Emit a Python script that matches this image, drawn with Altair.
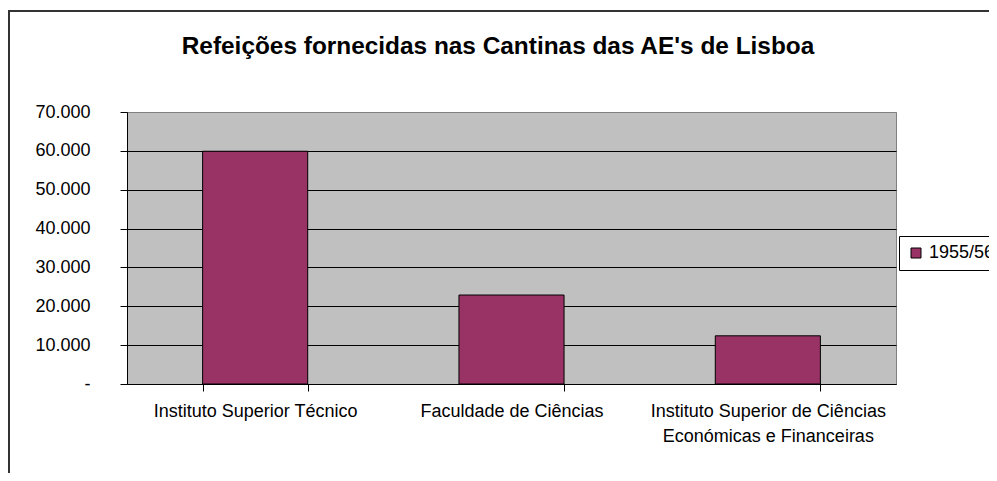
import altair as alt
import pandas as pd

# ---- data ----
categories = [
    "Instituto Superior Técnico",
    "Faculdade de Ciências",
    "Instituto Superior de Ciências\nEconómicas e Financeiras",
]
values = [59900, 22900, 12400]
series_name = "1955/56"
y_ticks = [0, 10000, 20000, 30000, 40000, 50000, 60000, 70000]
title_text = "Refeições fornecidas nas Cantinas das AE's de Lisboa"

FONT = "Liberation Sans"
BAR = "#993366"

df = pd.DataFrame({"cat": categories, "val": values, "serie": [series_name] * len(values)})

bars = alt.Chart(df).mark_bar(stroke="black", strokeWidth=1).encode(
    x=alt.X(
        "cat:N",
        sort=None,
        title=None,
        scale=alt.Scale(paddingInner=0.59, paddingOuter=0.295),
        axis=alt.Axis(
            tickBand="extent",
            tickSize=7,
            tickColor="black",
            domainColor="black",
            labelAngle=0,
            labelFont=FONT,
            labelFontSize=18,
            labelColor="black",
            labelPadding=11,
            labelLineHeight=25,
            labelLimit=0,
            labelOverlap=False,
            labelExpr="split(datum.label, '\\n')",
            grid=False,
        ),
    ),
    y=alt.Y(
        "val:Q",
        title=None,
        scale=alt.Scale(domain=[0, 70000], nice=False),
        axis=alt.Axis(
            values=y_ticks,
            tickSize=7,
            tickColor="black",
            domainColor="black",
            labelFont=FONT,
            labelFontSize=18,
            labelColor="black",
            labelPadding=30,
            labelExpr="datum.value == 0 ? '-' : replace(format(datum.value, ','), ',', '.')",
            grid=True,
            gridColor={"condition": {"test": "datum.value >= 70000", "value": "#808080"}, "value": "black"},
            gridWidth=1,
        ),
    ),
    color=alt.Color(
        "serie:N",
        scale=alt.Scale(range=[BAR]),
        legend=alt.Legend(
            title=None,
            orient="none",
            legendX=772,
            legendY=124,
            strokeColor="black",
            fillColor="white",
            padding=8,
            symbolType="square",
            symbolSize=100,
            symbolStrokeColor="black",
            symbolStrokeWidth=1,
            labelFont=FONT,
            labelFontSize=18,
            labelColor="black",
            labelOffset=4,
        ),
    ),
)

one = pd.DataFrame({"k": [0]})

frame = alt.Chart(one).mark_rect(fillOpacity=0, stroke="#333333", strokeWidth=2).encode(
    x=alt.value(-118), x2=alt.value(1000), y=alt.value(-101), y2=alt.value(500)
)

title = alt.Chart(one).mark_text(
    font=FONT, fontSize=24.4, fontWeight="bold", align="center", baseline="alphabetic", color="black"
).encode(x=alt.value(371), y=alt.value(-58), text=alt.value(title_text))

chart = (
    alt.layer(frame, bars, title)
    .properties(
        width=769,
        height=272,
        autosize=alt.AutoSizeParams(type="none"),
        padding={"left": 119, "top": 104, "right": 93, "bottom": 89},
    )
    .configure(font=FONT, background="white")
    .configure_view(fill="#C0C0C0", stroke="#808080", strokeWidth=1)
)

chart.save("out.html", embed_options={"renderer": "svg", "actions": False})
